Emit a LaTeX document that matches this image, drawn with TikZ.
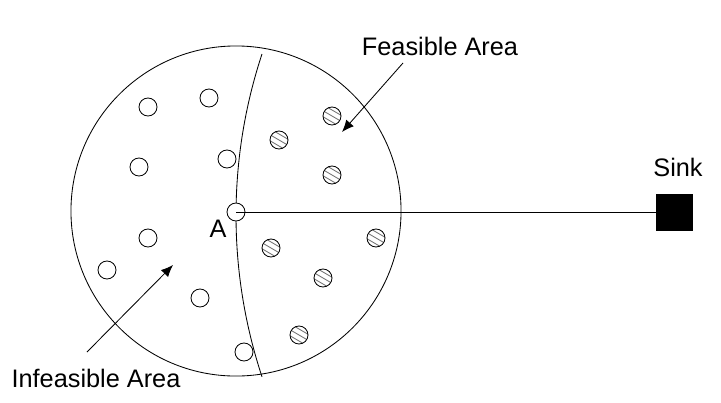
\documentclass[tikz,border=0pt]{standalone}
\usepackage{fontspec}
\setmainfont{Liberation Sans}
\usetikzlibrary{arrows.meta,positioning}
\tikzset{
  sensor/.style={circle, draw=black, line width=0.6pt, minimum size=0.45cm,
                 inner sep=0pt, fill=white},
  hatched/.style={sensor, path picture={
      \foreach \o in {-6,0,6}
        \draw[black!55, line width=0.6pt]
          ([shift={(-12,\o-7)}]path picture bounding box.center) -- ++(24,14);}},
  lbl/.style={font=\fontsize{18}{21}\selectfont, inner sep=0pt},
  ar/.style={-{Latex[length=3mm,width=2.5mm]}, line width=0.6pt}
}
\begin{document}
\begin{tikzpicture}[x=0.025cm, y=-0.025cm, line width=0.6pt,
  field/.style={circle, draw=black, line width=0.6pt, minimum size=8.25cm, inner sep=0pt},
  sinkbox/.style={rectangle, draw=black, fill=black, minimum size=0.9cm, inner sep=0pt}
]
\useasboundingbox (0,0) rectangle (721,402);
\node[field] (area) at (236,211) {};
% boundary between the two areas
\draw (262,54) arc[start angle=198.3, end angle=161.7, radius=514];
\node[sinkbox] (sink) at (674,212) {};
\node[sensor] (A) at (236,212) {};
\draw (A.center) -- (sink.west);
% nodes out of reach
\node[sensor] (u1) at (148,107) {};
\node[sensor] (u2) at (209,98) {};
\node[sensor] (u3) at (139,167) {};
\node[sensor] (u4) at (227,159) {};
\node[sensor] (u5) at (148,238) {};
\node[sensor] (u6) at (107,270) {};
\node[sensor] (u7) at (200,298) {};
\node[sensor] (u8) at (244,352) {};
% nodes in reach
\node[hatched] (f1) at (332,116) {};
\node[hatched] (f2) at (279,140) {};
\node[hatched] (f3) at (332,175) {};
\node[hatched] (f4) at (271,248) {};
\node[hatched] (f5) at (376,238) {};
\node[hatched] (f6) at (323,278) {};
\node[hatched] (f7) at (299,335) {};
% labels
\node[lbl] (alab) at (218,229) {A};
\node[lbl, above=4.2mm of sink, xshift=1mm] (sinklab) {Sink};
\node[lbl] (feas) at (440,46) {Feasible Area};
\node[lbl] (infeas) at (96,378) {Infeasible Area};
\coordinate (ftail) at (403,63);
\coordinate (ftip) at (342,132);
\coordinate (itail) at (87,352);
\coordinate (itip) at (173,265);
\draw[ar] (ftail) -- (ftip);
\draw[ar] (itail) -- (itip);
\end{tikzpicture}
\end{document}
